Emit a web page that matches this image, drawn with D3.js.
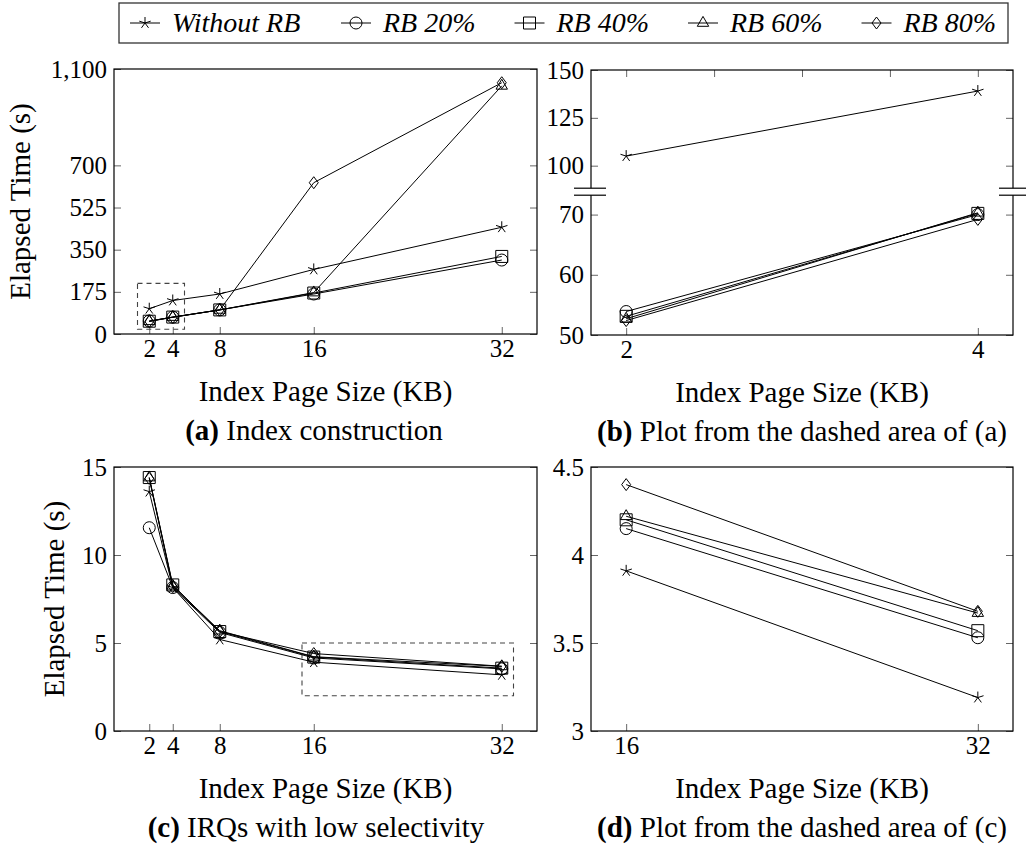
<!DOCTYPE html>
<html>
<head>
<meta charset="utf-8">
<script src="https://cdn.jsdelivr.net/npm/d3@7"></script>
<style>
  body { margin: 0; background: #fff; }
</style>
</head>
<body>
<svg id="chart" width="1026" height="851"></svg>
<script>
/* global d3 */

// Data
const pageSizes = [2, 4, 8, 16, 32];
const seriesNames = ["Without RB", "RB 20%", "RB 40%", "RB 60%", "RB 80%"];
const markShapes = ["star", "circle", "square", "triangle", "diamond"];

// (a) index construction, elapsed time (s)
const buildWithout = [105, 139, 166, 268, 443];
const build20 = [53.9, 70.0, 100, 166, 307];
const build40 = [53.1, 70.2, 100, 170, 322];
const build60 = [52.7, 70.3, 100, 172, 1030];
const build80 = [52.4, 69.2, 100, 628, 1043];

// (c) IRQs with low selectivity, elapsed time (s)
const irqWithout = [13.6, 8.15, 5.2, 3.91, 3.19];
const irq20 = [11.55, 8.15, 5.6, 4.15, 3.53];
const irq40 = [14.4, 8.3, 5.65, 4.2, 3.57];
const irq60 = [14.4, 8.25, 5.7, 4.22, 3.67];
const irq80 = [14.35, 8.2, 5.65, 4.4, 3.68];

const buildSeries = [buildWithout, build20, build40, build60, build80];
const irqSeries = [irqWithout, irq20, irq40, irq60, irq80];

const svg = d3.select("#chart");
const TICK = 7;
const MARK_R = 6;

/** Path for a pgfplots-like mark centred on 0,0. */
function markPath(shape, r) {
  const p = d3.path();
  if (shape === "star") {
    for (let k = 0; k < 5; k++) {
      const a = (-90 + 72 * k) * Math.PI / 180;
      p.moveTo(0, 0);
      p.lineTo(r * Math.cos(a), r * Math.sin(a));
    }
  } else if (shape === "circle") {
    p.moveTo(r, 0);
    p.arc(0, 0, r, 0, 2 * Math.PI);
  } else if (shape === "square") {
    p.rect(-r, -r, 2 * r, 2 * r);
  } else if (shape === "triangle") {
    const t = r * 1.1;
    p.moveTo(0, -t);
    p.lineTo(t * 0.866, t * 0.5);
    p.lineTo(-t * 0.866, t * 0.5);
    p.closePath();
  } else if (shape === "diamond") {
    p.moveTo(0, -r);
    p.lineTo(0.75 * r, 0);
    p.lineTo(0, r);
    p.lineTo(-0.75 * r, 0);
    p.closePath();
  }
  return p.toString();
}

/** Serif text, font set as a plain attribute on the element itself. */
function serifText(sel, size) {
  return sel
    .attr("font-family", "Liberation Serif")
    .attr("font-size", size)
    .attr("fill", "#000");
}

function styleTicks(g) {
  g.attr("font-family", "Liberation Serif").attr("font-size", 25);
  g.select(".domain").remove();
  g.selectAll(".tick line").attr("stroke", "#666").attr("stroke-width", 1);
  g.selectAll(".tick text").call(serifText, 25);
}

/** Draw one panel of the figure. */
function drawPanel(cfg) {
  const g = svg.append("g");
  const x = d3.scaleLinear().domain(cfg.xDomain).range([cfg.left, cfg.right]);
  const y = d3.scaleLinear().domain(cfg.yDomain).range(cfg.yRange);

  // ticks (inside the frame, labels left and bottom)
  g.append("g")
    .attr("transform", `translate(${cfg.left},0)`)
    .call(d3.axisLeft(y).tickValues(cfg.yTicks).tickFormat(cfg.yFormat)
      .tickSizeInner(-TICK).tickSizeOuter(0).tickPadding(7))
    .call(styleTicks);
  g.append("g")
    .attr("transform", `translate(${cfg.right},0)`)
    .call(d3.axisRight(y).tickValues(cfg.yTicks).tickFormat("")
      .tickSizeInner(-TICK).tickSizeOuter(0))
    .call(styleTicks);
  g.append("g")
    .attr("transform", `translate(0,${cfg.bottom})`)
    .call(d3.axisBottom(x).tickValues(cfg.xTicks).tickFormat(d3.format("d"))
      .tickSizeInner(-TICK).tickSizeOuter(0).tickPadding(5))
    .call(styleTicks);
  if (cfg.topTicks) {
    g.append("g")
      .attr("transform", `translate(0,${cfg.top})`)
      .call(d3.axisTop(x).tickValues(cfg.topTicks).tickFormat("")
        .tickSizeInner(-TICK).tickSizeOuter(0))
      .call(styleTicks);
  }

  // frame
  g.append("rect")
    .attr("x", cfg.left).attr("y", cfg.top)
    .attr("width", cfg.right - cfg.left).attr("height", cfg.bottom - cfg.top)
    .attr("fill", "none").attr("stroke", "#000").attr("stroke-width", 1.2);

  // dashed zoom area
  if (cfg.dashed) {
    const b = cfg.dashed;
    g.append("rect")
      .attr("x", x(b.x0)).attr("y", y(b.y1))
      .attr("width", x(b.x1) - x(b.x0)).attr("height", y(b.y0) - y(b.y1))
      .attr("fill", "none").attr("stroke", "#444").attr("stroke-width", 1.1)
      .attr("stroke-dasharray", "5,4");
  }

  // series
  const line = d3.line().x(d => x(d.x)).y(d => y(d.y));
  cfg.series.forEach((vals, i) => {
    const pts = pageSizes
      .map((p, j) => ({ x: p, y: vals[j] }))
      .filter(d => d.x >= cfg.xDomain[0] && d.x <= cfg.xDomain[1]);
    g.append("path")
      .datum(pts)
      .attr("d", line)
      .attr("fill", "none").attr("stroke", "#000").attr("stroke-width", 1);
    g.selectAll(null)
      .data(pts)
      .enter()
      .append("path")
      .attr("transform", d => `translate(${x(d.x)},${y(d.y)})`)
      .attr("d", markPath(markShapes[i], MARK_R))
      .attr("fill", "none").attr("stroke", "#000").attr("stroke-width", 1);
  });

  // axis break marks
  if (cfg.breakY) {
    [[574, 606], [999, 1026]].forEach(([x0, x1]) => {
      g.append("rect")
        .attr("x", x0).attr("y", cfg.breakY - 3.5)
        .attr("width", x1 - x0).attr("height", 7)
        .attr("fill", "#fff");
      [-3.5, 3.5].forEach(off => {
        g.append("line")
          .attr("x1", x0).attr("x2", x1)
          .attr("y1", cfg.breakY + off).attr("y2", cfg.breakY + off)
          .attr("stroke", "#000").attr("stroke-width", 1.2);
      });
    });
  }

  // labels
  const cx = (cfg.left + cfg.right) / 2;
  g.append("text")
    .attr("x", cx).attr("y", cfg.bottom + 67)
    .attr("text-anchor", "middle")
    .call(serifText, 29)
    .text("Index Page Size (KB)");
  if (cfg.yLabelX) {
    g.append("text")
      .attr("transform", `translate(${cfg.yLabelX},${(cfg.top + cfg.bottom) / 2}) rotate(-90)`)
      .attr("text-anchor", "middle")
      .call(serifText, 29)
      .text("Elapsed Time (s)");
  }
  const cap = g.append("text")
    .attr("x", cfg.captionX).attr("y", cfg.bottom + 106)
    .attr("text-anchor", "middle")
    .call(serifText, 29);
  cap.append("tspan").attr("font-weight", "bold").text(cfg.captionTag);
  cap.append("tspan").text(" " + cfg.caption);
}

drawPanel({
  left: 114, right: 537, top: 69, bottom: 334,
  xDomain: [-1, 35], yDomain: [0, 1100], yRange: [334, 69],
  xTicks: pageSizes, yTicks: [0, 175, 350, 525, 700, 1100], yFormat: d3.format(","),
  series: buildSeries,
  dashed: { x0: 1, x1: 5, y0: 20, y1: 210 },
  yLabelX: 30, captionX: 314,
  captionTag: "(a)", caption: "Index construction"
});

// broken axis: lower part 50..73.8, upper part 86.4..150
drawPanel({
  left: 591, right: 1013, top: 70, bottom: 335,
  xDomain: [1.8, 4.2], yDomain: [50, 73.8, 86.4, 150], yRange: [335, 191.7, 191.7, 70],
  xTicks: [2, 4], topTicks: [2, 2.5, 3, 3.5, 4],
  yTicks: [50, 60, 70, 100, 125, 150], yFormat: d3.format("d"),
  series: buildSeries, breakY: 191.7,
  captionX: 802,
  captionTag: "(b)", caption: "Plot from the dashed area of (a)"
});

drawPanel({
  left: 114, right: 537, top: 467, bottom: 731,
  xDomain: [-1, 35], yDomain: [0, 15], yRange: [731, 467],
  xTicks: pageSizes, yTicks: [0, 5, 10, 15], yFormat: d3.format("d"),
  series: irqSeries,
  dashed: { x0: 15, x1: 33, y0: 2, y1: 5 },
  yLabelX: 64, captionX: 316,
  captionTag: "(c)", caption: "IRQs with low selectivity"
});

drawPanel({
  left: 591, right: 1013, top: 467, bottom: 731,
  xDomain: [14.4, 33.6], yDomain: [3, 4.5], yRange: [731, 467],
  xTicks: [16, 32], yTicks: [3, 3.5, 4, 4.5], yFormat: d => String(d),
  series: irqSeries,
  captionX: 802,
  captionTag: "(d)", caption: "Plot from the dashed area of (c)"
});

// legend across the top; entry slots laid out by hand
(function legend() {
  const boxL = 119, boxR = 1008, boxT = 3, boxB = 43;
  const lineLen = 30, textGap = 12;
  const slotStart = [130, 341, 514.5, 688, 861.5];
  const cy = (boxT + boxB) / 2;
  const lg = svg.append("g");
  lg.append("rect")
    .attr("x", boxL).attr("y", boxT)
    .attr("width", boxR - boxL).attr("height", boxB - boxT)
    .attr("fill", "#fff").attr("stroke", "#333").attr("stroke-width", 1.3);
  seriesNames.forEach((name, i) => {
    const x0 = slotStart[i];
    lg.append("line")
      .attr("x1", x0).attr("x2", x0 + lineLen)
      .attr("y1", cy).attr("y2", cy)
      .attr("stroke", "#000").attr("stroke-width", 1);
    lg.append("path")
      .attr("transform", `translate(${x0 + lineLen / 2},${cy})`)
      .attr("d", markPath(markShapes[i], MARK_R))
      .attr("fill", "none").attr("stroke", "#000").attr("stroke-width", 1);
    lg.append("text")
      .attr("x", x0 + lineLen + textGap)
      .attr("y", cy + 9)
      .call(serifText, 28)
      .attr("font-style", "italic")
      .text(name);
  });
})();
</script>
</body>
</html>
